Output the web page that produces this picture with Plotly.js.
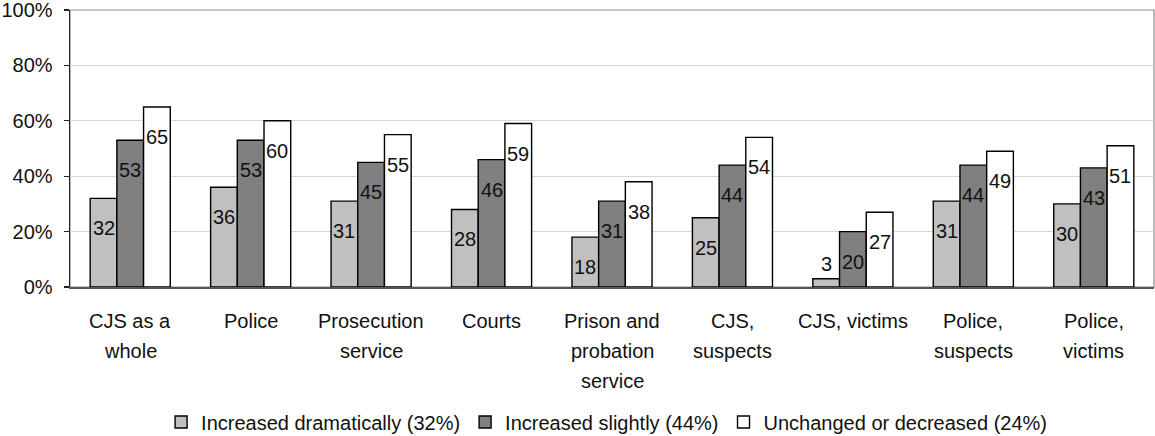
<!DOCTYPE html>
<html>
<head>
<meta charset="utf-8">
<script src="https://cdn.plot.ly/plotly-3.0.1.min.js"></script>
<style>
  html, body { margin: 0; padding: 0; background: #ffffff; }
  #chart { width: 1155px; height: 436px; }
</style>
</head>
<body>
<div id="chart"></div>
<script>
// ---- data ----
const categories = [
  "CJS as a whole", "Police", "Prosecution service", "Courts",
  "Prison and probation service", "CJS, suspects", "CJS, victims",
  "Police, suspects", "Police, victims"
];
const categoryLines = [
  ["CJS as a", "whole"],
  ["Police"],
  ["Prosecution", "service"],
  ["Courts"],
  ["Prison and", "probation", "service"],
  ["CJS,", "suspects"],
  ["CJS, victims"],
  ["Police,", "suspects"],
  ["Police,", "victims"]
];
const seriesNames = [
  "Increased dramatically (32%)",
  "Increased slightly (44%)",
  "Unchanged or decreased (24%)"
];
const increasedDramatically = [32, 36, 31, 28, 18, 25, 3, 31, 30];
const increasedSlightly     = [53, 53, 45, 46, 31, 44, 20, 44, 43];
const unchangedOrDecreased  = [65, 60, 55, 59, 38, 54, 27, 49, 51];
const yTickVals  = [0, 20, 40, 60, 80, 100];
const yTickText  = ["0%", "20%", "40%", "60%", "80%", "100%"];

// ---- styling ----
const FONT = "'Liberation Sans', Arial, Helvetica, sans-serif";
const colors = ["#c0c0c0", "#808080", "#ffffff"];
const series = [increasedDramatically, increasedSlightly, unchangedOrDecreased];
const bargap = 0.335;
const barW = (1 - bargap) / series.length;

const traces = series.map((vals, i) => ({
  type: "bar",
  name: seriesNames[i],
  x: categories,
  y: vals,
  marker: { color: colors[i], line: { color: "#000000", width: 1.4 } },
  hoverinfo: "skip"
}));

const annotations = [];
// value labels
series.forEach((vals, i) => {
  vals.forEach((v, c) => {
    const small = v < 10;
    annotations.push({
      xref: "x", yref: "y",
      x: c + (i - 1) * barW, y: v,
      text: String(v), showarrow: false,
      xanchor: "center", yanchor: "middle",
      yshift: small ? 15 : -30,
      font: { family: FONT, size: 20, color: "#111111" }
    });
  });
});
// category labels (multi-line with wide spacing)
categoryLines.forEach((lines, c) => {
  lines.forEach((line, k) => {
    annotations.push({
      xref: "x", yref: "paper",
      x: c, y: 0,
      text: line, showarrow: false,
      xanchor: "center", yanchor: "middle",
      yshift: -34 - 30 * k,
      font: { family: FONT, size: 20, color: "#111111" }
    });
  });
});

const layout = {
  width: 1155, height: 436,
  margin: { l: 70, r: 1, t: 10, b: 149, pad: 0, autoexpand: false },
  paper_bgcolor: "#ffffff",
  plot_bgcolor: "rgba(0,0,0,0)",
  barmode: "group",
  bargap: bargap,
  bargroupgap: 0,
  font: { family: FONT, size: 20, color: "#111111" },
  showlegend: true,
  legend: {
    orientation: "h",
    x: 0.495, xanchor: "center",
    yref: "container",
    y: 0.032, yanchor: "middle",
    font: { family: FONT, size: 20, color: "#111111" },
    itemwidth: 30,
    traceorder: "normal"
  },
  xaxis: {
    type: "category",
    showticklabels: false,
    ticks: "",
    showgrid: false,
    showline: true,
    linecolor: "#555555",
    linewidth: 1.5,
    zeroline: false,
    fixedrange: true
  },
  yaxis: {
    range: [0, 100],
    autorange: false,
    tickmode: "array",
    tickvals: yTickVals,
    ticktext: yTickText,
    ticks: "outside",
    ticklen: 5,
    tickcolor: "#222222",
    tickwidth: 1.2,
    ticklabelstandoff: 7,
    ticklabeloverflow: "allow",
    tickfont: { family: FONT, size: 20, color: "#111111" },
    showgrid: true,
    gridcolor: "#d6d6d6",
    gridwidth: 1,
    showline: true,
    linecolor: "#222222",
    linewidth: 1.4,
    zeroline: false,
    fixedrange: true
  },
  shapes: [{
    type: "rect", xref: "paper", yref: "paper",
    x0: 0, x1: 1, y0: 0, y1: 1,
    line: { color: "#8c8c8c", width: 1.2 },
    layer: "below"
  }],
  annotations: annotations
};

Plotly.newPlot("chart", traces, layout, { displayModeBar: false, staticPlot: true });
</script>
</body>
</html>
